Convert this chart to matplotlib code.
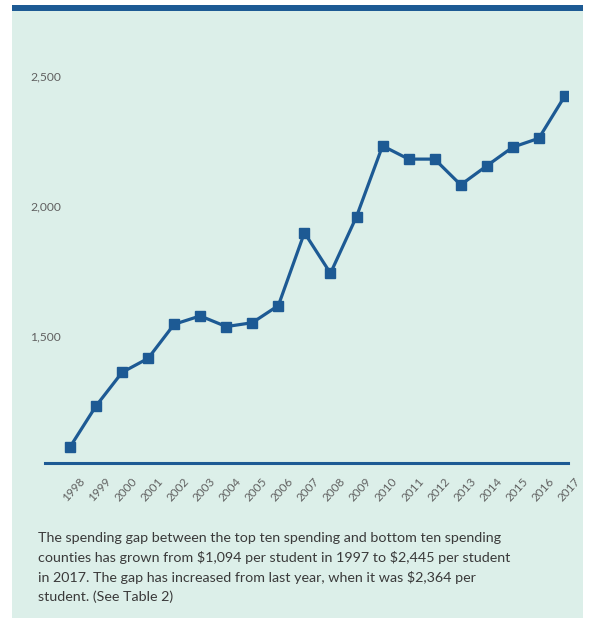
import matplotlib
matplotlib.use("Agg")
import matplotlib.pyplot as plt
from matplotlib.patches import Rectangle
import matplotlib.transforms as mtransforms

years = [str(y) for y in range(1998, 2018)]
gap = [1073, 1231, 1360, 1414, 1545, 1577, 1536, 1551, 1617, 1897,
       1741, 1959, 2231, 2180, 2180, 2081, 2154, 2226, 2260, 2423]
yticks = [1500, 2000, 2500]
ytick_labels = ["1,500", "2,000", "2,500"]
caption = ("The spending gap between the top ten spending and bottom ten spending\n"
           "counties has grown from $1,094 per student in 1997 to $2,445 per student\n"
           "in 2017. The gap has increased from last year, when it was $2,364 per\n"
           "student. (See Table 2)")

W, H = 591, 621
BLUE = "#1d5a94"
BG = "#dcefe9"

fig = plt.figure(figsize=(W / 100, H / 100), dpi=100)
fig.patch.set_facecolor("white")

def fx(px):
    return px / W

def fy(py):
    return 1 - py / H

# panel background and top bar
fig.patches.append(Rectangle((fx(12), fy(618)), fx(583) - fx(12), fy(5) - fy(618),
                             transform=fig.transFigure, facecolor=BG, edgecolor="none", zorder=-2))
fig.patches.append(Rectangle((fx(12), fy(11)), fx(583) - fx(12), fy(5) - fy(11),
                             transform=fig.transFigure, facecolor=BLUE, edgecolor="none", zorder=-1))

ax = fig.add_axes([fx(45), fy(463), fx(568) - fx(45), fy(40) - fy(463)])
ax.set_zorder(2)
ax.set_facecolor("none")
x = list(range(len(years)))
ax.plot(x, gap, color=BLUE, lw=2.3, marker="s", markersize=7.3,
        markerfacecolor=BLUE, markeredgecolor=BLUE, solid_joinstyle="miter")

ax.set_xlim(-0.96, 19.12)
ax.set_ylim(1011.5, 2638)

for s in ["top", "right", "left"]:
    ax.spines[s].set_visible(False)
ax.spines["bottom"].set_color(BLUE)
ax.spines["bottom"].set_linewidth(2.2)

ax.set_yticks(yticks)
ax.set_yticklabels(ytick_labels, family="Lato", fontsize=8.7, color="#606060")
ax.tick_params(axis="y", length=0, pad=10.8)
for lab in ax.get_yticklabels():
    lab.set_horizontalalignment("left")

ax.set_xticks(x)
ax.set_xticklabels(years, family="Lato", fontsize=8.5, color="#606060", rotation=48, ha="center")
ax.tick_params(axis="x", length=0, pad=9)
offset = mtransforms.ScaledTranslation(4 / 100, 0, fig.dpi_scale_trans)
for lab in ax.get_xticklabels():
    lab.set_transform(lab.get_transform() + offset)

fig.text(fx(38), fy(532), caption, family="Lato", fontsize=10.3, color="#3a3a3a",
         va="top", ha="left", linespacing=1.64, parse_math=False)

fig.savefig("out.png", dpi=100, facecolor="white")
